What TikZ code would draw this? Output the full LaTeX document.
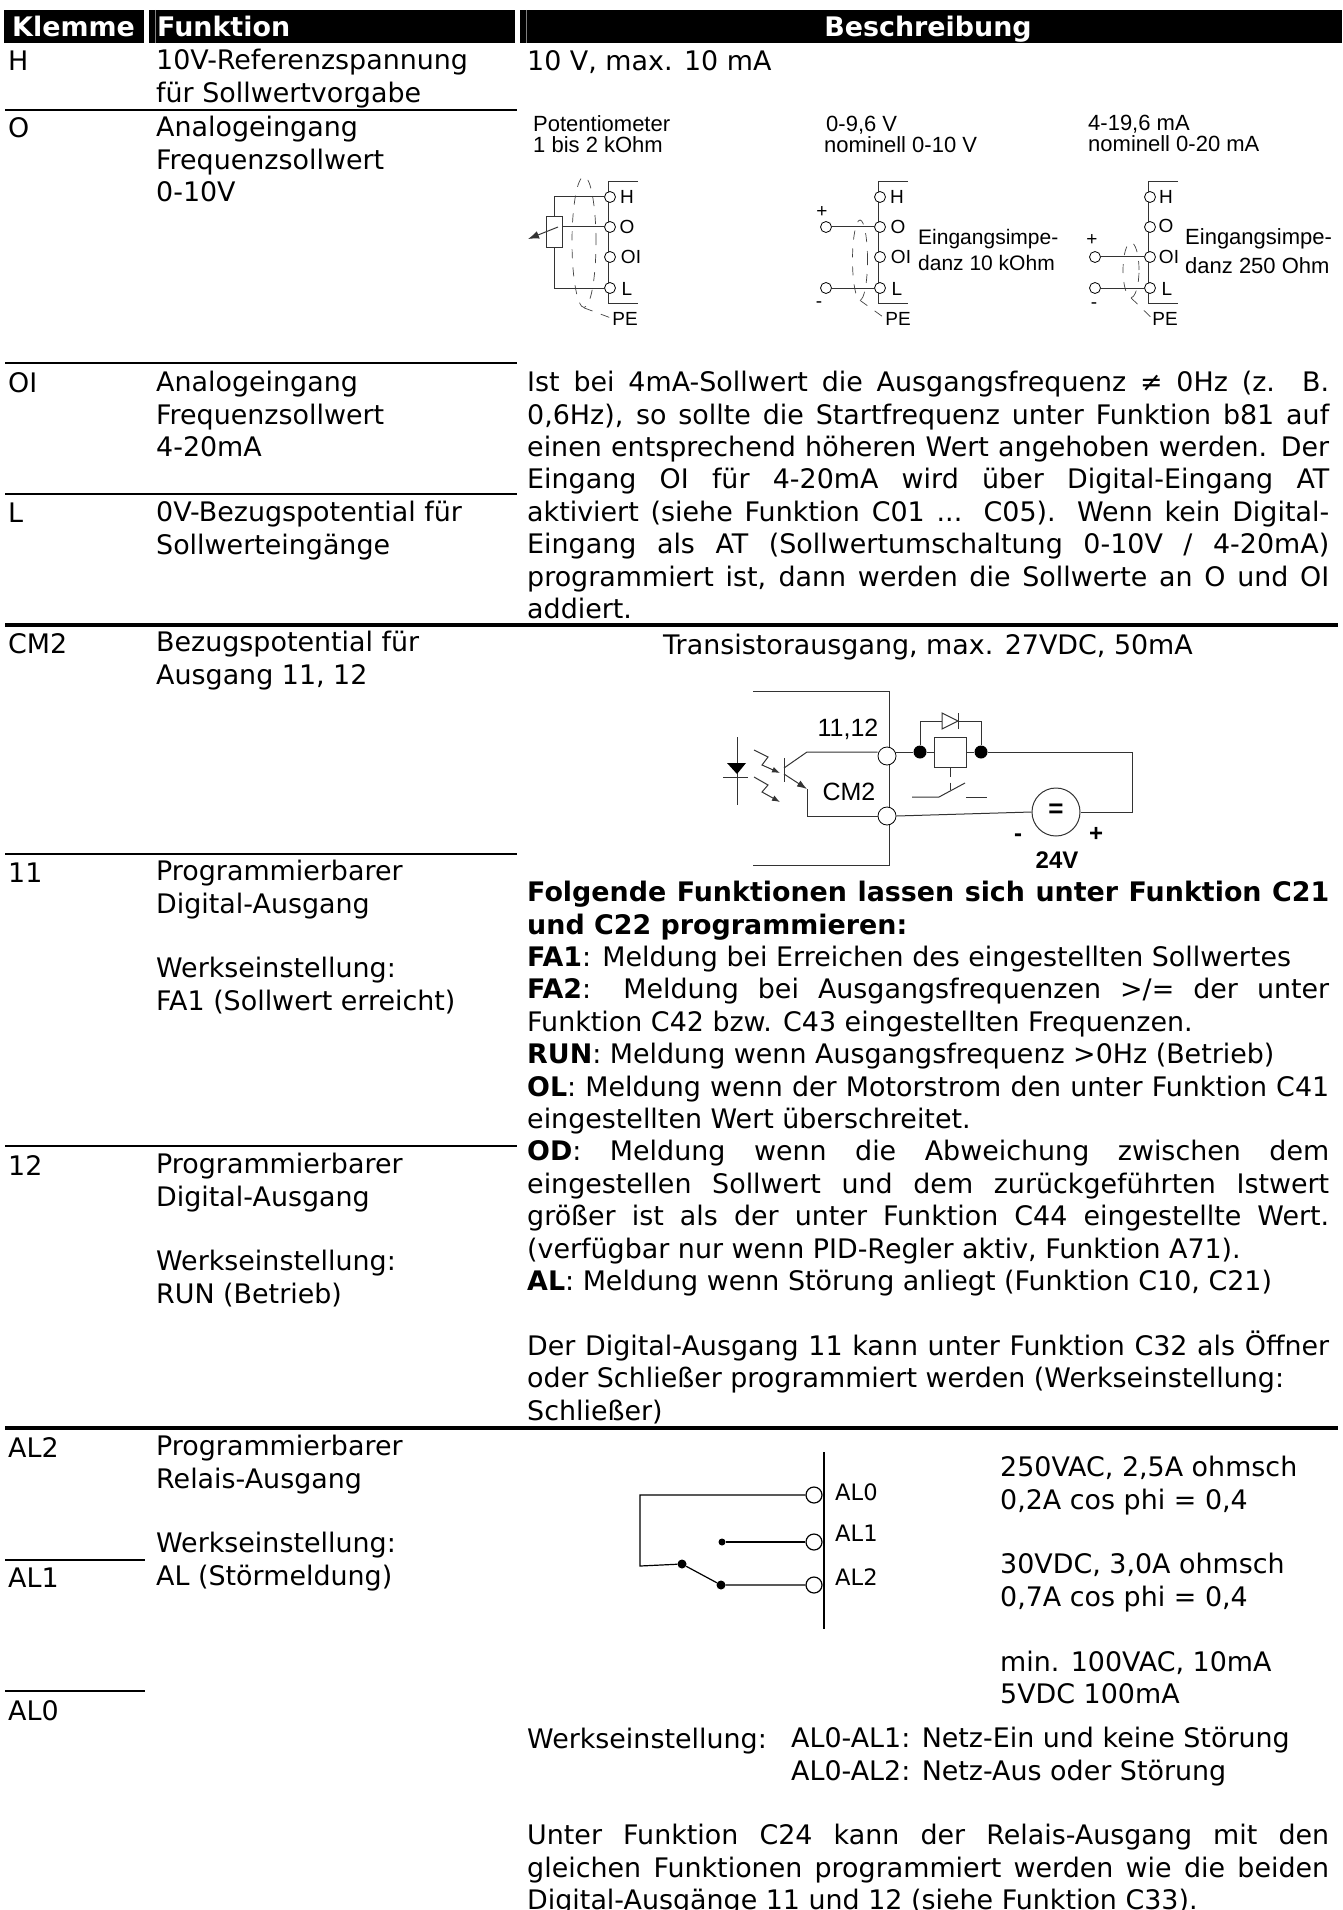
\documentclass[tikz,border=0pt]{standalone}
\usepackage{fontspec}
\usepackage{tikz}
\usetikzlibrary{shapes.geometric,arrows.meta}
\setmainfont{DejaVu Sans}
\newfontfamily\arialfont{Liberation Sans}
\newcommand{\bodyfont}{\fontsize{26.9}{32.4}\selectfont}
\newcommand{\alfont}{\fontsize{22.6}{28}\selectfont}
\newcommand{\jl}[1]{\makebox[802pt][s]{\spaceskip=.318em plus 1fil minus .15em #1}}
\tikzset{
    txt/.style={inner sep=0pt, anchor=base west, align=left, font=\bodyfont},
    blk/.style={inner sep=0pt, anchor=north west, yshift=21pt, align=left, font=\bodyfont,
        execute at begin node={\rule{0pt}{24pt}}},
    head/.style={inner sep=0pt, anchor=base west, text=white, font=\bodyfont\bfseries},
    lab/.style={inner sep=0pt, anchor=base west, font=\arialfont\fontsize{22}{21}\selectfont},
    pin/.style={inner sep=0pt, anchor=base, font=\arialfont\fontsize{19}{21}\selectfont},
    bigl/.style={inner sep=0pt, anchor=base, font=\arialfont\fontsize{25}{28}\selectfont},
    boldl/.style={inner sep=0pt, anchor=base, font=\arialfont\bfseries\fontsize{24}{28}\selectfont},
    term/.style={draw, circle, fill=white, inner sep=0pt, minimum size=11pt, line width=.8pt},
    bigterm/.style={draw, circle, fill=white, inner sep=0pt, minimum size=18pt, line width=.8pt},
    dotn/.style={circle, fill=black, inner sep=0pt, minimum size=13pt},
    rule/.style={line width=2pt},
    thickrule/.style={line width=4.5pt},
    wire/.style={line width=1pt, black!80},
    shld/.style={line width=.7pt, black!75, dash pattern=on 9pt off 9pt},
}
\begin{document}
\begin{tikzpicture}[x=1pt, y=-1pt]
    \useasboundingbox (0,0) rectangle (1342,1910);
    \fill (4,10) rectangle (1342,43);
    \fill [white] (144,10) rectangle (149,43);
    \fill [white] (515,10) rectangle (520,43);
    \draw [black!50!white, line width=.6pt] (155,10) -- (155,43);
    \draw [black!50!white, line width=.6pt] (526,10) -- (526,43);
    \node [head] (hKlemme) at (12,37) {Klemme};
    \node [head] (hFunktion) at (157,37) {Funktion};
    \node [head, anchor=base] (hBeschreibung) at (928,37) {Beschreibung};

    \draw [rule] (5,110) -- (517,110);
    \draw [rule] (5,363) -- (517,363);
    \draw [rule] (5,494) -- (517,494);
    \draw [rule] (5,854) -- (517,854);
    \draw [rule] (5,1146) -- (517,1146);
    \draw [rule] (5,1560) -- (145,1560);
    \draw [rule] (5,1691) -- (145,1691);
    \draw [thickrule] (5,625) -- (1338,625);
    \draw [thickrule] (5,1428) -- (1338,1428);

    \node [txt] (kH) at (8,71) {H};
    \node [blk] (fH) at (156,70) {10V-Referenzspannung\\für Sollwertvorgabe};
    \node [txt] (dH) at (527,71) {10 V, max. 10 mA};
    \node [txt] (kO) at (8,138) {O};
    \node [blk] (fO) at (156,137) {Analogeingang\\Frequenzsollwert\\0-10V};
    \node [txt] (kOI) at (8,392) {OI};
    \node [blk] (fOI) at (156,392) {Analogeingang\\Frequenzsollwert\\4-20mA};
    \node [txt] (kL) at (8,522) {L};
    \node [blk] (fL) at (156,522) {0V-Bezugspotential für\\Sollwerteingänge};
    \node [blk] (dOI) at (527,392) {\jl{Ist bei 4mA-Sollwert die Ausgangsfrequenz ≠ 0Hz (z. B.}\\
        \jl{0,6Hz), so sollte die Startfrequenz unter Funktion b81 auf}\\
        \jl{einen entsprechend höheren Wert angehoben werden. Der}\\
        \jl{Eingang OI für 4-20mA wird über Digital-Eingang AT}\\
        \jl{aktiviert (siehe Funktion C01 ... C05). Wenn kein Digital-}\\
        \jl{Eingang als AT (Sollwertumschaltung 0-10V / 4-20mA)}\\
        \jl{programmiert ist, dann werden die Sollwerte an O und OI}\\
        addiert.};
    \node [txt] (kCM) at (8,653) {CM2};
    \node [blk] (fCM) at (156,652) {Bezugspotential für\\Ausgang 11, 12};
    \node [txt, anchor=base] (dCM) at (928,654) {Transistorausgang, max. 27VDC, 50mA};
    \node [txt] (k11) at (8,882) {11};
    \node [blk] (f11) at (156,881) {Programmierbarer\\Digital-Ausgang\\[32.4pt]Werkseinstellung:\\FA1 (Sollwert erreicht)};
    \node [txt] (k12) at (8,1175) {12};
    \node [blk] (f12) at (156,1174) {Programmierbarer\\Digital-Ausgang\\[32.4pt]Werkseinstellung:\\RUN (Betrieb)};
    \node [blk] (d11) at (527,902) {\jl{\textbf{Folgende Funktionen lassen sich unter Funktion C21}}\\
        \textbf{und C22 programmieren:}\\
        \textbf{FA1}: Meldung bei Erreichen des eingestellten Sollwertes\\
        \jl{\textbf{FA2}: Meldung bei Ausgangsfrequenzen >/= der unter}\\
        Funktion C42 bzw. C43 eingestellten Frequenzen.\\
        \textbf{RUN}: Meldung wenn Ausgangsfrequenz >0Hz (Betrieb)\\
        \jl{\textbf{OL}: Meldung wenn der Motorstrom den unter Funktion C41}\\
        eingestellten Wert überschreitet.\\
        \jl{\textbf{OD}: Meldung wenn die Abweichung zwischen dem}\\
        \jl{eingestellen Sollwert und dem zurückgeführten Istwert}\\
        \jl{größer ist als der unter Funktion C44 eingestellte Wert.}\\
        (verfügbar nur wenn PID-Regler aktiv, Funktion A71).\\
        \textbf{AL}: Meldung wenn Störung anliegt (Funktion C10, C21)\\[32.4pt]
        \jl{Der Digital-Ausgang 11 kann unter Funktion C32 als Öffner}\\
        oder Schließer programmiert werden (Werkseinstellung:\\
        Schließer)};
    \node [txt] (kAL2) at (8,1457) {AL2};
    \node [blk] (fAL) at (156,1456) {Programmierbarer\\Relais-Ausgang\\[32.4pt]Werkseinstellung:\\AL (Störmeldung)};
    \node [txt] (kAL1) at (8,1587) {AL1};
    \node [txt] (kAL0) at (8,1720) {AL0};
    \node [blk] (dRel) at (1000,1477) {250VAC, 2,5A ohmsch\\0,2A cos phi = 0,4\\[32.4pt]30VDC, 3,0A ohmsch\\0,7A cos phi = 0,4\\[32.4pt]min. 100VAC, 10mA\\5VDC 100mA};
    \node [txt] (dWerk) at (527,1748) {Werkseinstellung:};
    \node [blk] (dWerkb) at (791,1748) {AL0-AL1: Netz-Ein und keine Störung\\AL0-AL2: Netz-Aus oder Störung};
    \node [blk] (dUnter) at (527,1845) {\jl{Unter Funktion C24 kann der Relais-Ausgang mit den}\\
        \jl{gleichen Funktionen programmiert werden wie die beiden}\\
        Digital-Ausgänge 11 und 12 (siehe Funktion C33).};

    \node [lab] (potA) at (533,132) {Potentiometer};
    \node [lab] (potB) at (533,153) {1 bis 2 kOhm};
    \draw [wire] (638,182) -- (608,182) -- (608,303) -- (638,303);
    \node [term] (aH) at (610,197) {};
    \node [term] (aO) at (610,227) {};
    \node [term] (aOI) at (610,257) {};
    \node [term] (aL) at (610,288) {};
    \node [pin] (aHl) at (627,204) {H};
    \node [pin] (aOl) at (627,234) {O};
    \node [pin] (aOIl) at (631,264) {OI};
    \node [pin] (aLl) at (627,295) {L};
    \node [pin] (aPE) at (625,325) {PE};
    \node [draw, wire, minimum width=16pt, minimum height=31pt, inner sep=0pt] (pot) at (554,232.5) {};
    \draw [wire] (pot.north) |- (aH.west);
    \draw [wire] (pot.south) |- (aL.west);
    \draw [wire] (pot.east |- aO.west) -- (aO.west);
    \coordinate (wiperA) at (558,227);
    \coordinate (wiperB) at (528,239);
    \draw [wire, -{Latex[length=11pt,width=8pt]}] (wiperA) -- (wiperB);
    \node [draw, ellipse, shld, minimum width=24pt, minimum height=131pt, inner sep=0pt] (shA) at (584,242) {};
    \draw [shld] (shA.south) -- (aPE.west);

    \node [lab] (volA) at (826,132) {0-9,6 V};
    \node [lab] (volB) at (824,153) {nominell 0-10 V};
    \draw [wire] (908,182) -- (878,182) -- (878,303) -- (908,303);
    \node [term] (bH) at (880,197) {};
    \node [term] (bO) at (880,227) {};
    \node [term] (bOI) at (880,257) {};
    \node [term] (bL) at (880,288) {};
    \node [pin] (bHl) at (897,204) {H};
    \node [pin] (bOl) at (898,234) {O};
    \node [pin] (bOIl) at (901,264) {OI};
    \node [pin] (bLl) at (897,295) {L};
    \node [pin] (bPE) at (898,325) {PE};
    \node [term] (bP) at (826,227) {};
    \node [term] (bM) at (826,288) {};
    \node [pin] (bPl) at (822,218) {+};
    \node [pin] (bMl) at (819,307) {-};
    \draw [wire] (bP) -- (bO);
    \draw [wire] (bM) -- (bL);
    \node [draw, ellipse, shld, minimum width=15pt, minimum height=80pt, inner sep=0pt] (shB) at (860,260) {};
    \draw [shld] (shB.south) -- (bPE.west);
    \node [lab, font=\arialfont\fontsize{21}{21}\selectfont] (bImp) at (918,244) {Eingangsimpe-};
    \node [lab, font=\arialfont\fontsize{21}{21}\selectfont] (bImpb) at (918,270) {danz 10 kOhm};

    \node [lab] (curA) at (1088,131) {4-19,6 mA};
    \node [lab] (curB) at (1088,152) {nominell 0-20 mA};
    \draw [wire] (1178,182) -- (1148,182) -- (1148,303) -- (1178,303);
    \node [term] (cH) at (1150,197) {};
    \node [term] (cO) at (1150,227) {};
    \node [term] (cOI) at (1150,257) {};
    \node [term] (cL) at (1150,288) {};
    \node [pin] (cHl) at (1166,204) {H};
    \node [pin] (cOl) at (1166,233) {O};
    \node [pin] (cOIl) at (1169,264) {OI};
    \node [pin] (cLl) at (1167,295) {L};
    \node [pin] (cPE) at (1165,325) {PE};
    \node [term] (cP) at (1095,257) {};
    \node [term] (cM) at (1095,288) {};
    \node [pin] (cPl) at (1092,246) {+};
    \node [pin] (cMl) at (1094,308) {-};
    \draw [wire] (cP) -- (cOI);
    \draw [wire] (cM) -- (cL);
    \node [draw, ellipse, shld, minimum width=16pt, minimum height=55pt, inner sep=0pt] (shC) at (1131,270) {};
    \draw [shld] (shC.south) -- (cPE.west);
    \node [lab] (cImp) at (1185,245) {Eingangsimpe-};
    \node [lab] (cImpb) at (1185,273) {danz 250 Ohm};

    \draw [wire] (753,691) -- (889,691) -- (889,865) -- (753,865);
    \node [bigterm] (t11) at (887,756) {};
    \node [bigterm] (tCM) at (887,816) {};
    \node [bigl] (l11) at (848,736) {11,12};
    \node [bigl] (lCM) at (849,800) {CM2};
    \node [dotn] (dotL) at (920,752) {};
    \node [dotn] (dotR) at (981,752) {};
    \node [draw, wire, minimum width=32pt, minimum height=30pt, inner sep=0pt] (relay) at (950,752) {};
    \node [draw, wire, circle, minimum size=48pt, inner sep=0pt] (src) at (1056,812) {};
    \node [inner sep=0pt, font=\arialfont\bfseries\fontsize{26}{28}\selectfont] (srcEq) at (1056,811) {=};
    \node [boldl] (srcM) at (1018,841) {-};
    \node [boldl] (srcP) at (1096,841) {+};
    \node [boldl] (src24) at (1057,868) {24V};
    \coordinate (coll) at (807,752);
    \coordinate (emit) at (807,789);
    \coordinate (corner) at (1132,752);
    \draw [wire] (784,768) -- (coll) -- (t11.west |- coll);
    \draw [wire, -{Latex[length=10pt,width=7pt]}] (784,774) -- (emit);
    \draw [wire] (emit) |- (tCM.west);
    \draw [wire] (784,758) -- (784,782);
    \draw [wire] (t11.east |- dotL) -- (dotL) -- (relay.west);
    \draw [wire] (relay.east) -- (dotR) -- (corner) |- (src.east);
    \draw [wire] (src.west) -- (tCM.east);
    \draw [wire] (dotL) |- (942,721);
    \draw [wire] (958,721) -| (dotR);
    \draw [wire] (942,713) -- (942,729) -- (958,721) -- cycle;
    \draw [wire] (958,713) -- (958,729);
    \draw [wire, dash pattern=on 9pt off 6pt] (relay.south) -- (950,790);
    \draw [wire] (912,797) -- (939,797) -- (965,783);
    \draw [wire] (966,797) -- (987,797);
    \draw [wire] (737,737) -- (737,805);
    \fill (727,763) -- (746,763) -- (737,774) -- cycle;
    \draw [wire] (723,777) -- (748,777);
    \draw [wire, -{Latex[length=8pt,width=6pt]}] (754,750) -- (768,757) -- (762,765) -- (780,773);
    \draw [wire, -{Latex[length=8pt,width=6pt]}] (754,777) -- (768,785) -- (762,792) -- (780,802);

    \draw [line width=1.5pt] (824,1452) -- (824,1629);
    \node [term, minimum size=16pt, line width=1.2pt] (rAL0) at (814,1495) {};
    \node [term, minimum size=16pt, line width=1.2pt] (rAL1) at (814,1542) {};
    \node [term, minimum size=16pt, line width=1.2pt] (rAL2) at (814,1585) {};
    \node [inner sep=0pt, anchor=base west, font=\alfont] (lAL0) at (835,1500) {AL0};
    \node [inner sep=0pt, anchor=base west, font=\alfont] (lAL1) at (835,1541) {AL1};
    \node [inner sep=0pt, anchor=base west, font=\alfont] (lAL2) at (835,1585) {AL2};
    \coordinate (jointA) at (640,1495);
    \coordinate (jointB) at (640,1566);
    \node [dotn, minimum size=9pt] (swA) at (682,1564) {};
    \node [dotn, minimum size=9pt] (swB) at (721,1585) {};
    \node [dotn, minimum size=7pt] (swC) at (722,1542) {};
    \draw [line width=1.2pt] (rAL0.west) -- (jointA) -- (jointB) -- (swA) -- (swB) -- (rAL2.west);
    \draw [line width=1.2pt] (swC) -- (rAL1.west);
\end{tikzpicture}
\end{document}
